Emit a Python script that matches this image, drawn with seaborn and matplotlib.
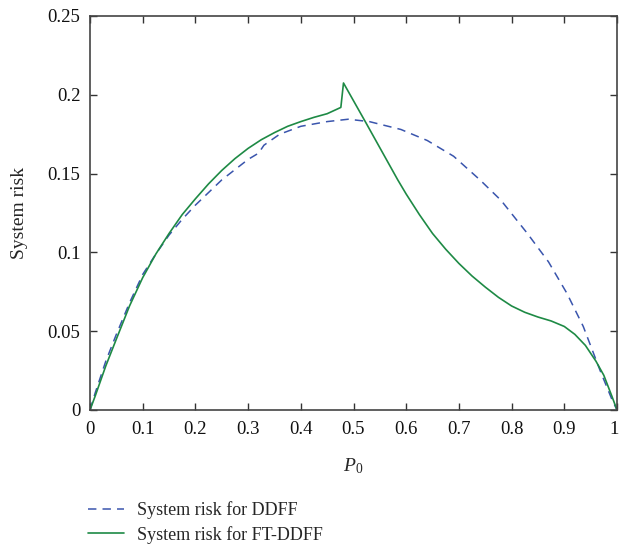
import matplotlib
matplotlib.use("Agg")
import matplotlib.pyplot as plt
import matplotlib.transforms as mtransforms
import seaborn as sns
import pandas as pd

sns.set_style("ticks")
plt.rcParams['font.family'] = ['Liberation Serif', 'DejaVu Serif']
plt.rcParams['mathtext.fontset'] = 'custom'
plt.rcParams['mathtext.it'] = 'Liberation Serif:italic'
plt.rcParams['mathtext.rm'] = 'Liberation Serif'

ddff_x = [0, 0.01, 0.03, 0.05, 0.075, 0.1, 0.125, 0.15, 0.175, 0.2, 0.25, 0.3, 0.32, 0.33,
          0.36, 0.4, 0.45, 0.49, 0.53, 0.59, 0.64, 0.69, 0.74, 0.78, 0.83, 0.87, 0.905,
          0.936, 0.968, 0.99, 1.0]
ddff_y = [0, 0.011, 0.031, 0.048, 0.068, 0.086, 0.099, 0.111, 0.121, 0.130, 0.146, 0.159,
          0.163, 0.168, 0.175, 0.180, 0.183, 0.1845, 0.183, 0.178, 0.171, 0.161, 0.146,
          0.133, 0.112, 0.094, 0.074, 0.053, 0.025, 0.007, 0]

ft_x = [0, 0.01, 0.03, 0.05, 0.075, 0.1, 0.125, 0.15, 0.175, 0.2, 0.225, 0.25, 0.275, 0.3,
        0.325, 0.35, 0.375, 0.4, 0.425, 0.45, 0.476, 0.481, 0.524, 0.584, 0.6, 0.625, 0.65,
        0.675, 0.7, 0.725, 0.75, 0.775, 0.8, 0.825, 0.85, 0.875, 0.9, 0.92, 0.94, 0.96,
        0.975, 0.99, 1.0]
ft_y = [0, 0.009, 0.028, 0.045, 0.066, 0.084, 0.099, 0.112, 0.124, 0.134, 0.1435, 0.152,
        0.1595, 0.166, 0.1715, 0.176, 0.1800, 0.183, 0.1857, 0.188, 0.192, 0.2075, 0.182,
        0.146, 0.137, 0.124, 0.112, 0.102, 0.093, 0.085, 0.078, 0.0715, 0.066, 0.062,
        0.059, 0.0565, 0.053, 0.048, 0.041, 0.031, 0.022, 0.009, 0]

x_ticks = [0, 0.1, 0.2, 0.3, 0.4, 0.5, 0.6, 0.7, 0.8, 0.9, 1.0]
x_ticklabels = ["0", "0.1", "0.2", "0.3", "0.4", "0.5", "0.6", "0.7", "0.8", "0.9", "1"]
y_ticks = [0, 0.05, 0.1, 0.15, 0.2, 0.25]
y_ticklabels = ["0", "0.05", "0.1", "0.15", "0.2", "0.25"]

df1 = pd.DataFrame({"x": ddff_x, "y": ddff_y})
df2 = pd.DataFrame({"x": ft_x, "y": ft_y})

fig = plt.figure(figsize=(6.2, 5.44), dpi=100)
ax = fig.add_axes([90/620, 1-410/544, 527/620, 394/544])

sns.lineplot(data=df1, x="x", y="y", ax=ax, color="#3a55ad", linestyle=(0, (5.5, 4)),
             linewidth=1.1, label="System risk for DDFF", sort=False)
sns.lineplot(data=df2, x="x", y="y", ax=ax, color="#1e8a45", linewidth=1.2,
             label="System risk for FT-DDFF", sort=False)

ax.set_xlim(0, 1)
ax.set_ylim(0, 0.25)
ax.set_xticks(x_ticks)
ax.set_xticklabels(x_ticklabels)
ax.set_yticks(y_ticks)
ax.set_yticklabels(y_ticklabels)
ax.tick_params(direction="in", length=5, width=1, labelsize=13.5, top=True, right=True,
               colors="#333333", labelcolor="#111111")
ax.tick_params(axis="x", pad=8)
ax.tick_params(axis="y", pad=7)
for s in ax.spines.values():
    s.set_visible(True)
    s.set_linewidth(1.2)
    s.set_color("#444444")

# keep the last x tick label inside the canvas
last = ax.get_xticklabels()[-1]
last.set_transform(last.get_transform() + mtransforms.ScaledTranslation(-3/100, 0, fig.dpi_scale_trans))

ax.set_xlabel(r"$P_0$", fontsize=14, labelpad=13)
ax.set_ylabel("System risk", fontsize=14, labelpad=14)

handles, labels = ax.get_legend_handles_labels()
ax.get_legend().remove()
fig.legend(handles, labels, loc="upper left", bbox_to_anchor=(0.142, 0.078),
           frameon=False, fontsize=13, handlelength=2.0, handletextpad=0.7,
           labelspacing=0.35, borderaxespad=0, borderpad=0)

fig.savefig("out.png", dpi=100)
